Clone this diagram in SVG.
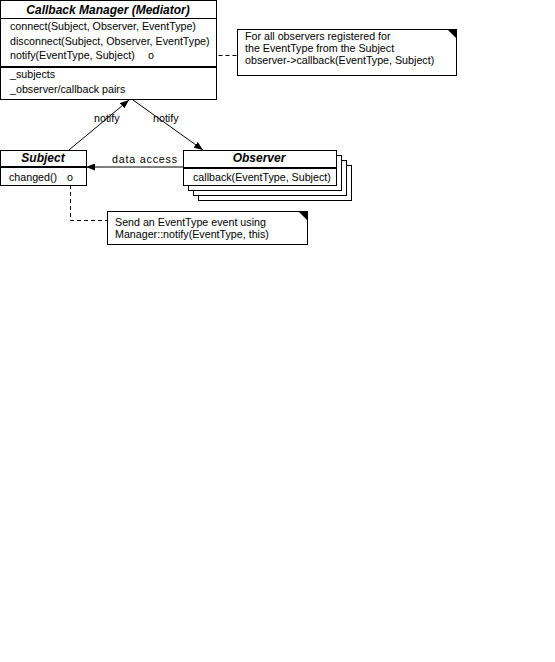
<svg xmlns="http://www.w3.org/2000/svg" width="555" height="662" viewBox="0 0 555 662">
<style>
text{font-family:"Liberation Sans",Arial,sans-serif;font-size:10.7px;fill:#000}
.t{font-weight:bold;font-style:italic;text-anchor:middle;font-size:12px}
.box{fill:#fff;stroke:#000;stroke-width:1}
.ln{stroke:#000;stroke-width:1;fill:none}
.thick{stroke:#000;stroke-width:2}
.dash{stroke:#000;stroke-width:1;fill:none;stroke-dasharray:4,3}
</style>
<defs>
<marker id="ah" markerWidth="9" markerHeight="7" refX="9" refY="3.5" orient="auto" markerUnits="userSpaceOnUse">
<path d="M0,0 L9,3.5 L0,7 Z" fill="#000"/>
</marker>
</defs>
<rect width="555" height="662" fill="#fff"/>
<g id="connectors">
<line class="ln" x1="69" y1="150" x2="129" y2="100" marker-end="url(#ah)"/>
<line class="ln" x1="133" y1="100" x2="203" y2="150" marker-end="url(#ah)"/>
<line class="ln" x1="183" y1="167" x2="86" y2="167" marker-end="url(#ah)"/>
<text x="94" y="122">notify</text>
<text x="153" y="122">notify</text>
<text x="112" y="163" textLength="65">data access</text>
<polyline class="dash" points="155.5,55.5 237,55.5"/>
<polyline class="dash" points="70.5,185 70.5,220.5 107,220.5"/>
</g>
<g id="manager">
<rect class="box" x="0.5" y="0.5" width="216" height="99"/>
<line class="ln" x1="0" y1="18.5" x2="216" y2="18.5"/>
<line class="thick" x1="0" y1="67" x2="216" y2="67"/>
<text class="t" x="108" y="14">Callback Manager (Mediator)</text>
<text x="10" y="30">connect(Subject, Observer, EventType)</text>
<text x="10" y="45">disconnect(Subject, Observer, EventType)</text>
<text x="10" y="59">notify(EventType, Subject)</text>
<text x="148" y="59">o</text>
<text x="10" y="78">_subjects</text>
<text x="10" y="93">_observer/callback pairs</text>
</g>
<g id="note1">
<rect class="box" x="237.5" y="29.5" width="219" height="46"/>
<path d="M447,29 L457,29 L457,39 Z" fill="#000"/>
<text x="245" y="40">For all observers registered for</text>
<text x="245" y="52">the EventType from the Subject</text>
<text x="245" y="64">observer-&gt;callback(EventType, Subject)</text>
</g>
<g id="subject">
<rect class="box" x="0.5" y="150.5" width="86" height="35"/>
<line class="thick" x1="0" y1="167" x2="86" y2="167"/>
<text class="t" x="43" y="162">Subject</text>
<text x="9" y="181">changed()</text>
<text x="67" y="181">o</text>
</g>
<g id="observer">
<rect class="box" x="198.5" y="165.5" width="153" height="35"/>
<rect class="box" x="193.5" y="160.5" width="153" height="35"/>
<rect class="box" x="188.5" y="155.5" width="153" height="35"/>
<rect class="box" x="183.5" y="150.5" width="153" height="35"/>
<line class="thick" x1="183" y1="168" x2="336" y2="168"/>
<text class="t" x="259" y="162">Observer</text>
<text x="193" y="181">callback(EventType, Subject)</text>
</g>
<g id="note2">
<rect class="box" x="107.5" y="211.5" width="200" height="33"/>
<path d="M298,211 L308,211 L308,221 Z" fill="#000"/>
<text x="115" y="226">Send an EventType event using</text>
<text x="115" y="238">Manager::notify(EventType, this)</text>
</g>
</svg>
